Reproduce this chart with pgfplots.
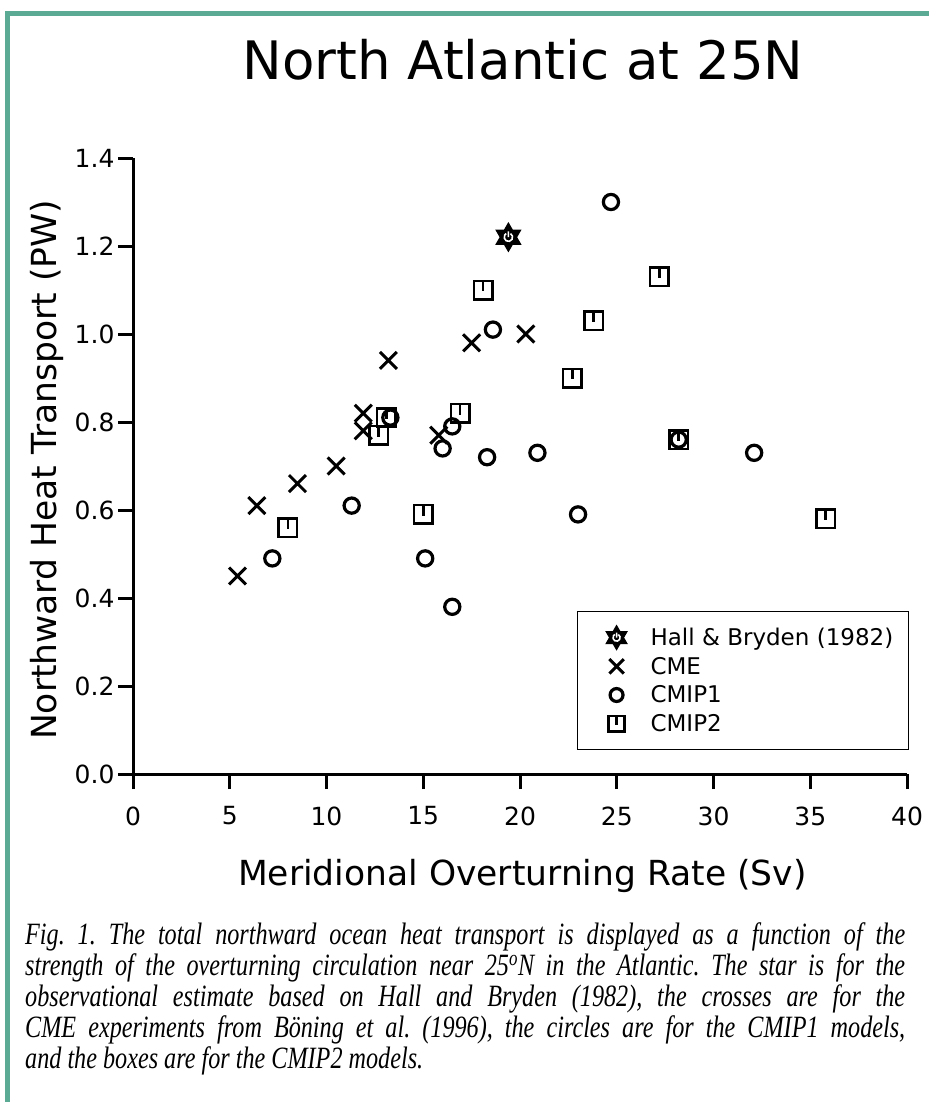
\documentclass[border=0pt]{standalone}
\usepackage{pgfplots}
\pgfplotsset{compat=1.18}
\usepackage{pgfplotstable}
\usepackage{fontspec}
\setmainfont{Liberation Serif}
\newfontfamily\plotfont{DejaVu Sans}
\newfontfamily\capfont[FakeStretch=0.78]{Liberation Serif}
\definecolor{framecol}{RGB}{91,170,148}

% box with a short tick hanging from the top edge
\pgfdeclareplotmark{tickbox}{%
  \pgfpathrectangle{\pgfqpoint{-\pgfplotmarksize}{-\pgfplotmarksize}}{\pgfqpoint{2\pgfplotmarksize}{2\pgfplotmarksize}}%
  \pgfpathmoveto{\pgfqpoint{0pt}{\pgfplotmarksize}}%
  \pgfpathlineto{\pgfqpoint{0pt}{-0.15\pgfplotmarksize}}%
  \pgfusepathqstroke
}
% filled star of David with a small white mark inside
\pgfdeclareplotmark{hexstar}{%
  \pgfpathmoveto{\pgfqpointpolar{90}{\pgfplotmarksize}}%
  \pgfpathlineto{\pgfqpointpolar{210}{\pgfplotmarksize}}%
  \pgfpathlineto{\pgfqpointpolar{330}{\pgfplotmarksize}}%
  \pgfpathclose
  \pgfpathmoveto{\pgfqpointpolar{270}{\pgfplotmarksize}}%
  \pgfpathlineto{\pgfqpointpolar{390}{\pgfplotmarksize}}%
  \pgfpathlineto{\pgfqpointpolar{510}{\pgfplotmarksize}}%
  \pgfpathclose
  \pgfusepathqfillstroke
  \pgfscope
  \pgfsetstrokecolor{white}%
  \pgfsetlinewidth{1.6pt}%
  \pgfpathmoveto{\pgfqpointpolar{60}{0.3\pgfplotmarksize}}%
  \pgfpatharc{60}{-240}{0.3\pgfplotmarksize}%
  \pgfpathmoveto{\pgfqpoint{0pt}{0.42\pgfplotmarksize}}%
  \pgfpathlineto{\pgfqpoint{0pt}{0pt}}%
  \pgfusepathqstroke
  \endpgfscope
}

\pgfplotsset{
  mylegend/.style={legend image code/.code={
    \draw[##1,/tikz/every mark/.append style={scale=0.85}] plot coordinates {(0pt,0pt)};
    \path[draw=none,fill=none] (-39pt,-14.35pt) rectangle (14pt,14.35pt);}},
}

\pgfplotstableread{
x y
19.4 1.22
}\hallbryden

\pgfplotstableread{
x y
5.4 0.45
6.4 0.61
8.5 0.66
10.5 0.70
11.9 0.82
11.9 0.78
13.2 0.94
15.8 0.77
17.5 0.98
20.3 1.00
}\cme

\pgfplotstableread{
x y
7.2 0.49
11.3 0.61
13.3 0.81
15.1 0.49
16.0 0.74
16.5 0.79
16.5 0.38
18.3 0.72
18.6 1.01
20.9 0.73
23.0 0.59
24.7 1.30
28.2 0.76
32.1 0.73
}\cmipone

\pgfplotstableread{
x y
8.0 0.56
12.7 0.77
13.1 0.81
15.0 0.59
16.9 0.82
18.1 1.10
22.7 0.90
23.8 1.03
27.2 1.13
28.2 0.76
35.8 0.58
}\cmiptwo

\begin{document}
\frenchspacing
\begin{tikzpicture}
\useasboundingbox (0pt,0pt) rectangle (929pt,-1102pt);
\fill[framecol] (5pt,-11pt) rectangle (929pt,-16pt);
\fill[framecol] (5pt,-11pt) rectangle (10pt,-1102pt);

\begin{axis}[
  scale only axis, width=774pt, height=616pt,
  at={(133pt,-774pt)}, anchor=south west,
  xmin=0, xmax=40, ymin=0, ymax=1.4,
  axis x line=bottom, axis y line=left,
  axis line style={-, line width=3pt},
  tick align=outside, major tick length=15pt,
  every tick/.style={black, line width=3pt},
  xtick={0,5,...,40},
  ytick={0,0.2,0.4,0.6,0.8,1.0,1.2,1.4},
  yticklabel style={/pgf/number format/.cd, fixed, fixed zerofill, precision=1},
  xticklabel style={yshift=-14pt},
  ticklabel style={font=\plotfont\fontsize{25}{25}\selectfont},
  /pgf/number format/assume math mode=true,
  clip=false,
  title={North Atlantic at 25N},
  title style={font=\plotfont\fontsize{53}{53}\selectfont,
    at={(axis description cs:0.504,1.117)}, anchor=base},
  xlabel={Meridional Overturning Rate (Sv)},
  ylabel={Northward Heat Transport (PW)},
  every axis x label/.style={at={(axis description cs:0.503,-0.1818)}, anchor=base,
    font=\plotfont\fontsize{34.5}{34.5}\selectfont},
  every axis y label/.style={at={(axis description cs:-0.0982,0.4935)}, anchor=base, rotate=90,
    font=\plotfont\fontsize{34.5}{34.5}\selectfont},
  legend style={at={(axis description cs:0.5736,0.2646)}, anchor=north west,
    draw=black, line width=1.2pt, inner xsep=0pt, inner ysep=11.65pt,
    row sep=0pt, column sep=20pt, nodes={inner sep=0pt},
    font=\plotfont\fontsize{23}{23}\selectfont},
  legend cell align=left,
]
\addplot[only marks, mark=hexstar, mark size=14pt, draw=black, fill=black,
  line width=1.2pt, mylegend] table {\hallbryden};
\addlegendentry{\makebox[258pt][l]{Hall \& Bryden (1982)}}
\addplot[only marks, mark=x, mark size=12pt, draw=black, line width=3pt, mylegend] table {\cme};
\addlegendentry{\makebox[258pt][l]{CME}}
\addplot[only marks, mark=o, mark size=7.6pt, draw=black, line width=3.2pt, mylegend] table {\cmipone};
\addlegendentry{\makebox[258pt][l]{CMIP1}}
\addplot[only marks, mark=tickbox, mark size=9.25pt, draw=black, line width=2.5pt, mylegend] table {\cmiptwo};
\addlegendentry{\makebox[258pt][l]{CMIP2}}
\end{axis}

\begin{scope}[every node/.style={anchor=base west, inner sep=0pt,
    font=\capfont\itshape\fontsize{31}{31}\selectfont}]
\node at (25pt,-944pt) {\makebox[880pt][s]{Fig. 1. The total northward ocean heat transport is displayed as a function of the}};
\node at (25pt,-975pt) {\makebox[880pt][s]{strength of the overturning circulation near 25\textsuperscript{o}N in the Atlantic. The star is for the}};
\node at (25pt,-1006pt) {\makebox[880pt][s]{observational estimate based on Hall and Bryden (1982), the crosses are for the}};
\node at (25pt,-1037pt) {\makebox[880pt][s]{CME experiments from Böning et al. (1996), the circles are for the CMIP1 models,}};
\node at (25pt,-1068pt) {and the boxes are for the CMIP2 models.};
\end{scope}
\end{tikzpicture}
\end{document}
